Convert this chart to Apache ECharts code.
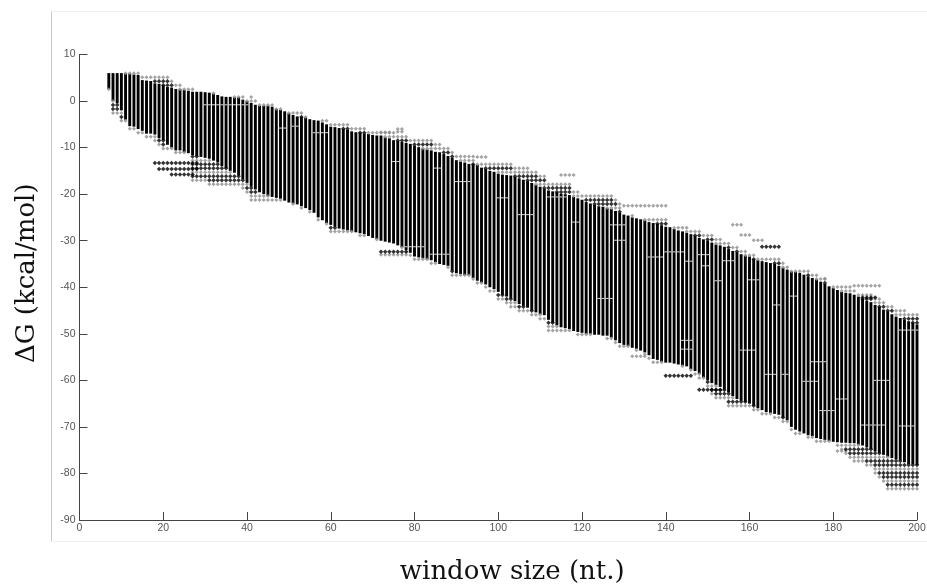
<!DOCTYPE html>
<html><head><meta charset="utf-8">
<style>html,body{margin:0;padding:0;background:#fff}#c{width:927px;height:588px}</style>
<script src="https://cdn.jsdelivr.net/npm/echarts@6/dist/echarts.min.js"></script></head>
<body><div id="c"></div>
<script>
const firstWindow = 7;
const xTicks = [0,20,40,60,80,100,120,140,160,180,200];
const yTicks = [10,0,-10,-20,-30,-40,-50,-60,-70,-80,-90];
// window sizes 7..200, one value each
const solidTop = [6,6,6,6,5.9,5.9,5.7,5.6,4.5,4.4,
4.3,3.8,3.7,3.4,3.0,2.9,2.6,2.5,2.4,2.2,
2,2,2,1.9,1.8,1.6,1.3,1.0,0.9,0.9,
0.8,0.8,0.3,0,-0.4,-0.8,-1,-1,-1,-1.2,
-1.7,-1.9,-2.2,-2.6,-3,-3.3,-3.4,-3.5,-3.9,-4.1,
-4.2,-4.6,-5,-5.5,-5.6,-5.8,-6,-6.2,-6.5,-6.7,
-6.8,-7,-7.1,-7.3,-7.4,-7.4,-7.8,-8,-8.4,-8.6,
-8.8,-9,-9.2,-9.6,-9.9,-10.2,-10.4,-10.6,-10.9,-11,
-11.4,-11.8,-12.2,-12.7,-13,-13.2,-13.5,-13.6,-13.7,-14.3,
-14.6,-15,-15.2,-15.6,-15.8,-15.9,-16,-16.3,-16.6,-16.9,
-17.2,-17.6,-18,-18.4,-18.9,-19.2,-19.4,-19.6,-19.9,-20,
-20.2,-20.6,-20.9,-21.2,-21.7,-22,-22.3,-22.6,-22.7,-23,
-23.2,-23.6,-24,-24.4,-24.6,-25,-25.2,-25.4,-25.6,-26,
-26.2,-26.4,-26.7,-27,-27.1,-27.5,-27.8,-28,-28.3,-28.6,
-29,-29.4,-29.7,-30,-30.4,-30.8,-31,-31.3,-31.8,-32.2,
-32.5,-32.9,-33.2,-33.4,-34,-34.2,-34.4,-34.6,-34.8,-35,
-35.4,-35.8,-36.2,-36.6,-36.7,-36.9,-37.3,-37.7,-38,-38.3,
-38.8,-39.3,-39.8,-40.2,-40.6,-41,-41.2,-41.3,-41.6,-42,
-42.5,-42.9,-43.2,-43.8,-44.2,-44.8,-45.2,-45.8,-46.3,-46.6,
-47,-47.3,-47.6,-48];
const solidBottom = [2.6,0,-0.5,-2,-4,-5.4,-5.5,-6,-6.4,-7,
-7,-7.2,-8,-8.4,-9.4,-10,-10.6,-10.6,-11,-11.2,
-11.6,-11.8,-12,-12.2,-12.4,-12.8,-13.2,-14,-14.4,-15,
-15.4,-16,-16.8,-17.6,-18.4,-19,-19.6,-20,-20.4,-20.6,
-20.8,-21,-21.4,-21.8,-22,-22.2,-22.6,-23,-23.4,-24,
-25,-25.6,-26.2,-26.6,-27,-27.4,-27.6,-27.8,-28,-28.2,
-28.4,-28.6,-29,-29.4,-29.6,-30,-30.2,-30.4,-30.6,-31,
-31.4,-32,-32.6,-33.4,-33.6,-33.8,-34,-34.2,-34.6,-35,
-35.2,-35.4,-36.4,-37,-37.2,-37.4,-37.4,-38,-38.6,-39,
-39.4,-40,-40.4,-41,-41.6,-42,-42.4,-43,-43.6,-44,
-44.4,-45,-45.4,-45.8,-46,-47,-47.6,-48.2,-48.6,-48.8,
-49,-49.4,-49.6,-49.8,-50,-50,-50.2,-50.2,-50.4,-50.4,
-50.8,-51.4,-52,-52.4,-52.6,-53,-53.2,-53.6,-54,-54.6,
-55.4,-55.6,-56,-56.2,-56.2,-56.4,-56.6,-56.8,-57,-57.6,
-58,-58.6,-59.4,-60,-60.6,-61,-61.4,-62,-62.6,-63.4,
-64,-64.4,-64.6,-65,-65.4,-66,-66.4,-66.8,-67,-67.2,
-67.4,-68,-68.6,-70,-70.6,-71,-71.4,-71.8,-72,-72.4,
-72.6,-72.8,-73,-73.2,-73.3,-73.4,-73.4,-73.5,-73.5,-73.8,
-74,-74.4,-74.8,-75.3,-75.6,-76,-76.4,-76.7,-77,-77.2,
-77.6,-78,-78,-78.2];
const fringeTop = [6.2,6.2,6.1,6.2,6.2,6.2,6.2,6,5.8,5.8,
5.6,5.6,5.6,5.6,5.5,5.0,4.2,3.8,3.2,3,
2.6,2.4,2.2,1.9,1.9,1.7,1.6,1.6,1.6,1.6,
1.6,1.3,1,0.8,0.9,0.4,-0.6,-0.6,-0.7,-0.8,
-1,-1.3,-2,-2.2,-2.3,-2.4,-2.4,-2.8,-3.5,-3.6,
-3.7,-3.8,-4,-4.6,-4.8,-5,-5,-5,-5.2,-5.6,
-5.6,-5.8,-6.2,-6.4,-6.6,-6.8,-6.6,-6.7,-6.8,-7.2,
-7.4,-7.6,-7.8,-8,-8,-8,-8.2,-8.4,-9,-9.2,
-10,-10,-10.4,-11.1,-11.2,-11.2,-11.2,-11.2,-13.3,-13.3,
-13.3,-13.4,-13.4,-13.4,-13.6,-13.6,-13.6,-14,-14.2,-14.4,
-14.4,-14.6,-14.6,-15.5,-15.5,-17.5,-17.5,-17.5,-17.5,-17.5,
-17.5,-19.1,-19.1,-20.2,-20.2,-20.2,-20.2,-20.2,-20.2,-20.2,
-20.4,-21,-21.5,-24.5,-24.5,-24.6,-24.8,-25,-25,-25.2,
-25,-25.1,-25.2,-25.3,-26.6,-26.6,-26.6,-26.6,-26.6,-27.4,
-27.4,-28,-28.4,-28.4,-28.4,-29.2,-29.4,-29.9,-29.9,-31,
-31,-32,-32.2,-32.4,-32.8,-33.4,-33.4,-33.5,-33.2,-33.2,
-34,-34.5,-35.6,-35.8,-36,-36.2,-36.2,-36.2,-36.7,-37.3,
-38,-38.2,-39.5,-39.5,-39.5,-39.5,-39.5,-39.5,-40.8,-41,
-41.2,-41.3,-41.4,-41.8,-42.2,-43.2,-43.4,-43.4,-44.2,-44.6,
-45,-45.2,-45.2,-45.2];
const fringeBottom = [2.4,-3.2,-3.2,-4.5,-4.6,-6.2,-6.5,-7.6,-7.6,-8.2,
-8.4,-8.6,-9.4,-10.9,-10.9,-11,-11.2,-11.2,-11.6,-11.8,
-17,-17.2,-17.4,-17.4,-18.4,-18.4,-18.4,-18.4,-18.4,-18.4,
-18.4,-18.6,-19,-20.2,-21.4,-21.4,-21.4,-21.4,-21.4,-21.4,
-21.6,-21.6,-21.8,-21.9,-22.2,-22.6,-23,-23.4,-23.8,-24.4,
-26,-26.2,-27,-28.8,-28.8,-28.8,-28.8,-28.8,-28.8,-28.8,
-29.4,-29.4,-29.4,-29.6,-29.8,-29.8,-30,-30.2,-30.6,-31,
-32,-33,-33.2,-34,-34,-34,-34.2,-35.4,-35.4,-35.4,
-35.6,-35.8,-37.4,-37.6,-37.6,-37.6,-37.8,-39,-39.1,-39.6,
-40,-41,-41.5,-42.7,-43,-43.8,-44.2,-44.6,-45.5,-45.5,
-45.6,-46,-46.4,-46.8,-47,-49.3,-49.3,-49.3,-49.3,-49.3,
-49.6,-50,-50.2,-50.3,-50.3,-50.4,-50.4,-50.6,-50.7,-51,
-51.4,-52,-52.8,-53,-53,-53.4,-53.6,-54,-54.4,-56,
-56.3,-56.5,-56.6,-56.7,-56.7,-56.7,-56.8,-57,-57.4,-58,
-59,-60,-60.2,-62,-63,-63.8,-64,-64.2,-66,-66,
-66,-66,-66,-66,-66.4,-67,-67.8,-67.8,-67.8,-68,
-68.4,-69,-69.4,-71.3,-71.4,-71.6,-72,-72.4,-73,-73.4,
-73.6,-73.8,-73.9,-73.9,-74,-75.2,-76,-77,-77.6,-77.8,
-78,-78.5,-79,-80.3,-81,-81.6,-83.6,-84,-84,-84,
-84,-84,-84,-84];
// detached runs of points: [first window, last window, ΔG]
const grayRuns = [[76,77,-6],[76,77,-6.6],[72,74,-6.7],[95,97,-12],[115,118,-15.9],[130,140,-22.5],[156,158,-26.6],[158,160,-28.8],[161,163,-29.9],[185,191,-39.7],[178,178,-38.2],[72,78,-33],[132,135,-54.8],[181,183,-75.2]];
const darkRuns = [[163,167,-31.3],[18,28,-13.3],[19,28,-14.6],[22,27,-15.8],[72,78,-32.4],[140,146,-59],[148,153,-62],[187,190,-42.2]];
// thin pale breaks inside the columns: [first window, last window, ΔG]
const breakRuns = [[158,161,-53.5],[164,166,-58.7],[168,169,-58.7],[173,176,-60.2],[181,183,-64],[144,146,-51.4],[144,146,-53.3],[196,199,-69.8],[187,192,-69.6],[177,180,-66.5],[196,200,-49.2],[118,119,-26],[124,127,-42.4],[127,130,-26.6],[128,130,-29.9],[84,88,-32.9],[78,82,-31.3],[152,153,-38.6],[154,156,-34.3],[140,144,-32.4],[145,146,-34.4],[148,150,-33],[149,150,-35.4],[160,162,-38.4],[170,171,-41.9],[166,167,-43.8],[51,52,-5.4],[48,49,-5.8],[56,59,-6.8],[100,102,-20.8],[90,93,-17.3],[75,76,-13],[85,86,-14.4],[30,40,-0.8],[112,116,-20.6],[136,139,-33.5],[105,108,-24.4],[175,178,-56],[190,193,-60]];
const rowStep = 0.85;

const grayPts = [], darkPts = [], cols = [], breaks = [];
function addRows(x, hi, lo) {
  const kTop = Math.floor(hi / rowStep), kBot = Math.ceil(lo / rowStep);
  for (let k = kTop; k >= kBot; k--) {
    const outer = (hi === fringeTop[x - firstWindow] && k === kTop) || (lo === fringeBottom[x - firstWindow] && k === kBot);
    (outer || ((k % 3) + 3) % 3 === 0 ? grayPts : darkPts).push([x, k * rowStep]);
  }
}
solidTop.forEach((t, i) => {
  const x = firstWindow + i, b = solidBottom[i];
  cols.push([x, t, b]);
  if (fringeTop[i] > t) addRows(x, fringeTop[i], t);
  if (fringeBottom[i] < b) addRows(x, b, fringeBottom[i]);
});
grayRuns.forEach(r => { for (let x = r[0]; x <= r[1]; x++) grayPts.push([x, r[2]]); });
darkRuns.forEach(r => { for (let x = r[0]; x <= r[1]; x++) darkPts.push([x, r[2]]); });
breakRuns.forEach(r => { for (let x = r[0]; x <= r[1]; x++) breaks.push([x, r[2]]); });

const chart = echarts.init(document.getElementById('c'), null, {renderer:'canvas'});
const tickLabel = {color:'#555', fontFamily:'Liberation Sans', fontSize:10.5};
const columnWidth = 2.9;
chart.setOption({
  animation:false,
  backgroundColor:'#fff',
  grid:{left:79.5, right:10, top:54.5, bottom:68, outerBoundsMode:'none'},
  graphic:[
    {type:'line', silent:true, shape:{x1:51.5,y1:11,x2:51.5,y2:541.5}, style:{stroke:'#c8c8c8',lineWidth:1}},
    {type:'line', silent:true, shape:{x1:51.5,y1:11.5,x2:927,y2:11.5}, style:{stroke:'#f0f0f0',lineWidth:1}},
    {type:'line', silent:true, shape:{x1:51.5,y1:541.5,x2:927,y2:541.5}, style:{stroke:'#f0f0f0',lineWidth:1}}
  ],
  xAxis:{type:'value', min:0, max:200, interval:20, position:'bottom',
    name:'window size (nt.)', nameLocation:'middle', nameGap:39,
    nameTextStyle:{fontFamily:'DejaVu Serif', fontSize:26, color:'#111', padding:[0,0,0,28]},
    axisLine:{onZero:false, lineStyle:{color:'#444',width:1}},
    axisTick:{inside:true, length:8, lineStyle:{color:'#444'}},
    axisLabel:Object.assign({margin:3, showMinLabel:true, showMaxLabel:true, formatter:v=>xTicks.includes(v)?String(v):''}, tickLabel),
    splitLine:{show:false}},
  yAxis:{type:'value', min:-90, max:10, interval:10,
    name:'ΔG (kcal/mol)', nameLocation:'middle', nameGap:39,
    nameTextStyle:{fontFamily:'DejaVu Serif', fontSize:26, color:'#111', padding:[0,0,0,28]},
    axisLine:{onZero:false, lineStyle:{color:'#444',width:1}},
    axisTick:{inside:true, length:8, lineStyle:{color:'#444'}},
    axisLabel:Object.assign({margin:4, showMinLabel:true, showMaxLabel:true, formatter:v=>yTicks.includes(v)?String(v):''}, tickLabel),
    splitLine:{show:false}},
  tooltip:{show:false},
  series:[
    {type:'custom', clip:false, silent:true, data:cols,
     encode:{x:0,y:[1,2]},
     renderItem:(p,api)=>{
       const a=api.coord([api.value(0),api.value(1)]), b=api.coord([api.value(0),api.value(2)]);
       return {type:'rect', shape:{x:a[0]-columnWidth/2,y:a[1],width:columnWidth,height:b[1]-a[1]}, style:{fill:'#000'}};
     }},
    {type:'scatter', clip:false, silent:true, data:grayPts, symbol:'diamond', symbolSize:4, itemStyle:{color:'#8c8c8c'}},
    {type:'scatter', clip:false, silent:true, data:darkPts, symbol:'diamond', symbolSize:4.5, itemStyle:{color:'#000'}},
    {type:'custom', clip:false, silent:true, data:breaks,
     encode:{x:0,y:1},
     renderItem:(p,api)=>{
       const a=api.coord([api.value(0),api.value(1)]);
       return {type:'rect', shape:{x:a[0]-columnWidth/2,y:a[1]-0.5,width:columnWidth,height:1}, style:{fill:'#d8d8d8'}};
     }}
  ]
});
</script></body></html>
